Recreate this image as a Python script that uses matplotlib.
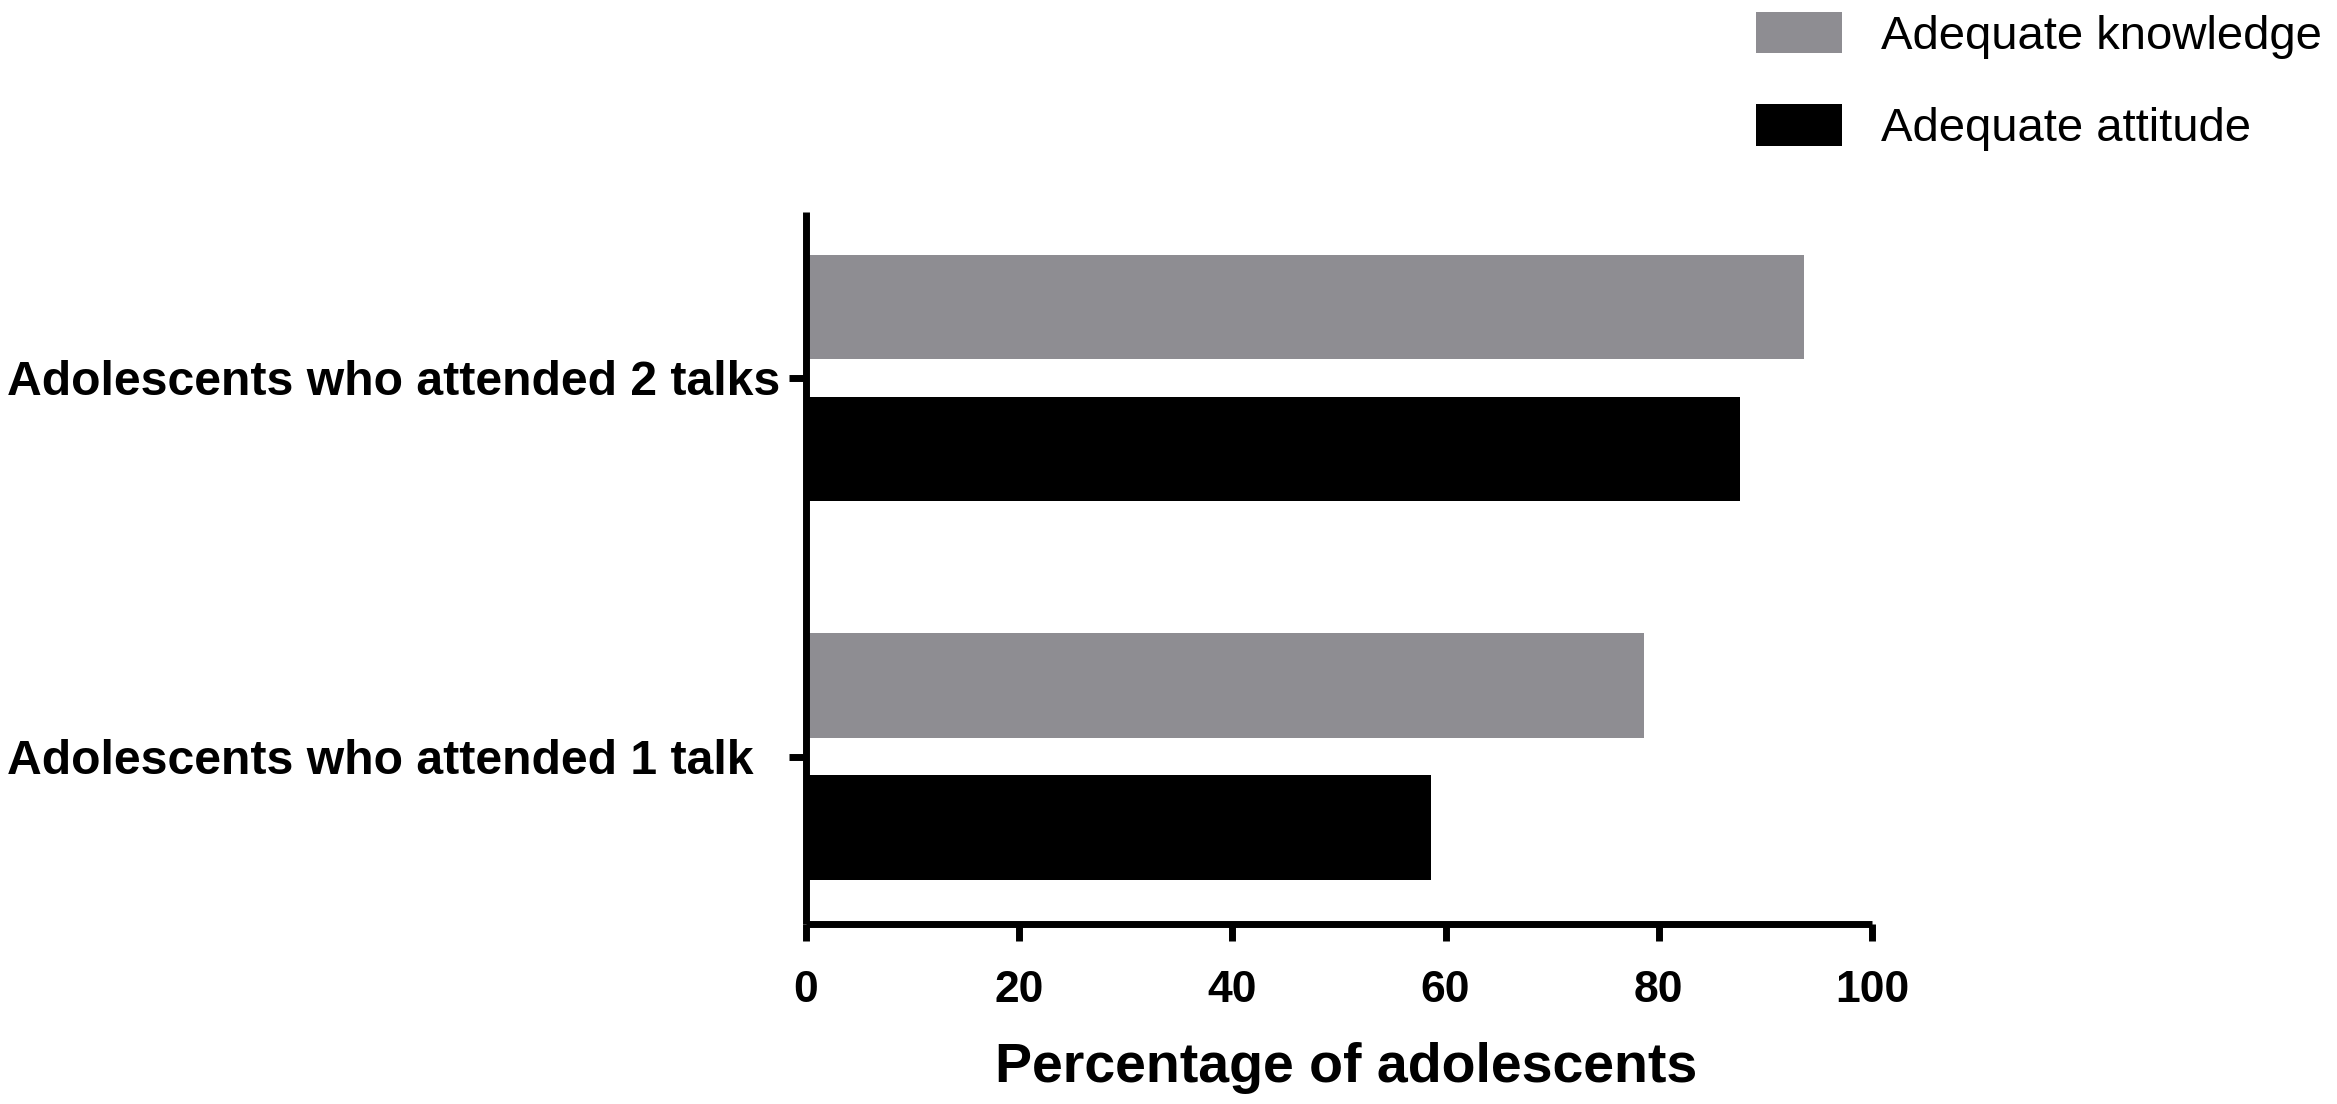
import matplotlib
matplotlib.use("Agg")
import matplotlib.pyplot as plt
import numpy as np

# data
groups = ["Adolescents who attended 1 talk", "Adolescents who attended 2 talks"]
knowledge = [78.6, 93.6]
attitude = [58.6, 87.6]
series_names = ["Adequate knowledge", "Adequate attitude"]
xticks = [0, 20, 40, 60, 80, 100]

plt.rcParams["font.family"] = ["Liberation Sans", "DejaVu Sans"]

fig = plt.figure(figsize=(23.37, 11.04), dpi=100)
ax = fig.add_axes([0.3449, 0.163, 0.4561, 0.645])

pos = np.arange(len(groups))
off = 0.1876
h = 0.277
ax.barh(pos + off, knowledge, height=h, color="#8e8d92", label=series_names[0])
ax.barh(pos - off, attitude, height=h, color="#000000", label=series_names[1])

ax.set_xlim(0, 100)
ax.set_ylim(-0.4425, 1.4386)

for s in ["top", "right"]:
    ax.spines[s].set_visible(False)
for s in ["left", "bottom"]:
    ax.spines[s].set_linewidth(5)
    ax.spines[s].set_capstyle("butt")

ax.set_xticks(xticks)
ax.set_xticklabels([str(t) for t in xticks], fontsize=32, fontweight="bold")
ax.tick_params(axis="x", length=12, width=5, pad=21)

ax.set_yticks(pos)
ax.set_yticklabels(groups, fontsize=34.7, fontweight="bold")
ax.tick_params(axis="y", length=12, width=5, pad=563)
for lab in ax.get_yticklabels():
    lab.set_horizontalalignment("left")

ax.set_xlabel("Percentage of adolescents", fontsize=40, fontweight="bold")
ax.xaxis.set_label_coords(0.507, -0.165)

ax.legend(loc="upper left", bbox_to_anchor=(0.7514, 0.989), bbox_transform=fig.transFigure,
          frameon=False, fontsize=34, handlelength=1.82, handleheight=0.97,
          handletextpad=0.83, labelspacing=0.96, borderaxespad=0, borderpad=0)

fig.savefig("out.png", dpi=100, facecolor="white")
